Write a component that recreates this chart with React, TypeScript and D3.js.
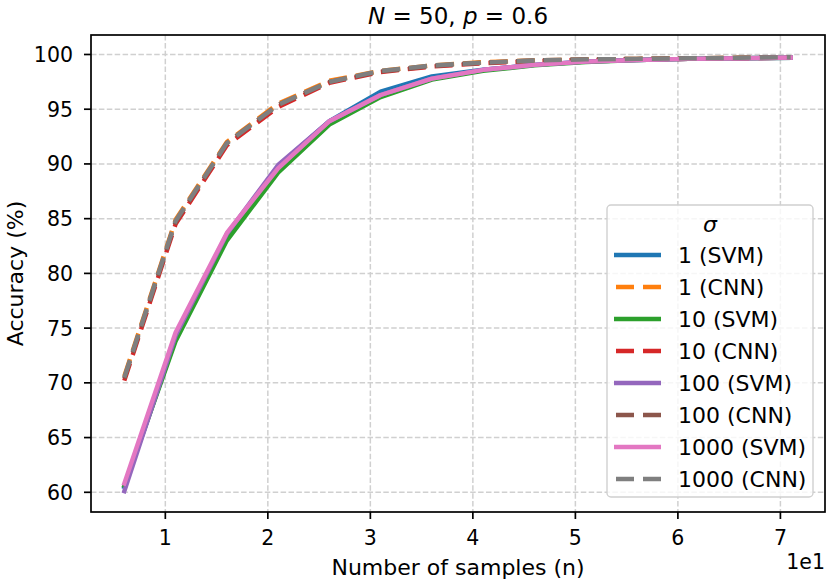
import React, { useEffect, useRef } from 'react';
import * as d3 from 'd3';

// number of samples (n); the axis shows them in units of 1e1
const samples = [6, 11, 16, 21, 26, 31, 36, 41, 46, 51, 56, 61, 66, 71];

const svm1 = [60.5, 74.0, 83.4, 89.8, 93.9, 96.6, 98.0, 98.6, 99.05, 99.35, 99.5, 99.6, 99.65, 99.7];
const cnn1 = [70.6, 84.9, 92.0, 95.5, 97.6, 98.5, 99.0, 99.3, 99.45, 99.55, 99.6, 99.65, 99.7, 99.75];
const svm10 = [60.6, 73.8, 83.0, 89.2, 93.6, 96.1, 97.7, 98.5, 99.0, 99.3, 99.5, 99.6, 99.65, 99.7];
const cnn10 = [70.2, 84.5, 91.7, 95.2, 97.4, 98.4, 98.9, 99.2, 99.4, 99.5, 99.55, 99.6, 99.65, 99.7];
const svm100 = [60.1, 74.3, 83.6, 89.9, 93.9, 96.3, 97.8, 98.6, 99.05, 99.35, 99.5, 99.6, 99.65, 99.7];
const cnn100 = [70.4, 84.7, 91.9, 95.4, 97.5, 98.45, 98.95, 99.25, 99.45, 99.55, 99.6, 99.65, 99.7, 99.75];
const svm1000 = [60.8, 74.6, 83.7, 89.6, 93.9, 96.3, 97.8, 98.6, 99.05, 99.35, 99.5, 99.6, 99.65, 99.72];
const cnn1000 = [70.5, 84.8, 91.9, 95.4, 97.5, 98.5, 99.0, 99.25, 99.45, 99.55, 99.6, 99.65, 99.7, 99.75];

const seriesLabels = ['1 (SVM)', '1 (CNN)', '10 (SVM)', '10 (CNN)', '100 (SVM)', '100 (CNN)', '1000 (SVM)', '1000 (CNN)'];
const seriesValues = [svm1, cnn1, svm10, cnn10, svm100, cnn100, svm1000, cnn1000];
const colors = ['#1f77b4', '#ff7f0e', '#2ca02c', '#d62728', '#9467bd', '#8c564b', '#e377c2', '#7f7f7f'];

const xTicks = [10, 20, 30, 40, 50, 60, 70];
const yTicks = [60, 65, 70, 75, 80, 85, 90, 95, 100];

const App: React.FC = () => {
    const chartRef = useRef<SVGSVGElement | null>(null);

    useEffect(() => {
        if (!chartRef.current) return;
        const svg = d3.select(chartRef.current);
        svg.selectAll('*').remove();

        const left = 91, right = 825, top = 35, bottom = 512;
        const font = 'DejaVu Sans, sans-serif';
        const tickFs = 20.5;
        const fs = 22;

        const x = d3.scaleLinear().domain([2.75, 74.35]).range([left, right]);
        const y = d3.scaleLinear().domain([58.2, 101.78]).range([bottom, top]);

        svg.append('rect').attr('width', 831).attr('height', 580).attr('fill', 'white');

        // grid
        const grid = svg.append('g').attr('stroke', '#d0d0d0').attr('stroke-width', 1.5).attr('stroke-dasharray', '5.5,2.4');
        xTicks.forEach((t) => {
            grid.append('line').attr('x1', x(t)).attr('x2', x(t)).attr('y1', top).attr('y2', bottom);
        });
        yTicks.forEach((t) => {
            grid.append('line').attr('x1', left).attr('x2', right).attr('y1', y(t)).attr('y2', y(t));
        });

        // lines
        const line = d3.line<number>()
            .x((_, i) => x(samples[i]))
            .y((d) => y(d));
        const plot = svg.append('g');
        seriesValues.forEach((vals, i) => {
            const dashed = i % 2 === 1;
            plot.append('path')
                .datum(vals)
                .attr('d', line)
                .attr('fill', 'none')
                .attr('stroke', colors[i])
                .attr('stroke-width', 4.4)
                .attr('stroke-linejoin', 'round')
                .attr('stroke-linecap', dashed ? 'butt' : 'square')
                .attr('stroke-dasharray', dashed ? '18,9' : null);
        });

        // spines
        svg.append('rect')
            .attr('x', left).attr('y', top)
            .attr('width', right - left).attr('height', bottom - top)
            .attr('fill', 'none').attr('stroke', 'black').attr('stroke-width', 1.7);

        // ticks
        const ax = svg.append('g').attr('font-family', font).attr('font-size', tickFs).attr('fill', 'black');
        xTicks.forEach((t) => {
            ax.append('line').attr('x1', x(t)).attr('x2', x(t)).attr('y1', bottom).attr('y2', bottom + 7)
                .attr('stroke', 'black').attr('stroke-width', 1.7);
            ax.append('text').attr('x', x(t)).attr('y', 545).attr('text-anchor', 'middle').text(d3.format('d')(t / 10));
        });
        yTicks.forEach((t) => {
            ax.append('line').attr('x1', left - 7).attr('x2', left).attr('y1', y(t)).attr('y2', y(t))
                .attr('stroke', 'black').attr('stroke-width', 1.7);
            ax.append('text').attr('x', 73).attr('y', y(t) + 7.5).attr('text-anchor', 'end').text(t);
        });

        ax.append('text').attr('x', (left + right) / 2).attr('y', 575).attr('font-size', fs)
            .attr('text-anchor', 'middle').text('Number of samples (n)');
        ax.append('text').attr('x', right).attr('y', 569).attr('text-anchor', 'end').text('1e1');
        ax.append('text')
            .attr('transform', `translate(23, ${(top + bottom) / 2}) rotate(-90)`)
            .attr('text-anchor', 'middle').attr('font-size', fs)
            .text('Accuracy (%)');

        // title
        const title = svg.append('text')
            .attr('x', (left + right) / 2).attr('y', 24)
            .attr('text-anchor', 'middle')
            .attr('font-family', font).attr('font-size', 23);
        title.append('tspan').attr('font-style', 'italic').text('N');
        title.append('tspan').text(' = 50, ');
        title.append('tspan').attr('font-style', 'italic').text('p');
        title.append('tspan').text(' = 0.6');

        // legend
        const lg = svg.append('g').attr('font-family', font).attr('font-size', fs);
        lg.append('rect')
            .attr('x', 607).attr('y', 205).attr('width', 206).attr('height', 292)
            .attr('rx', 4).attr('fill', 'white').attr('fill-opacity', 0.8)
            .attr('stroke', '#d0d0d0').attr('stroke-width', 1.4);
        lg.append('text').attr('x', 710).attr('y', 232).attr('text-anchor', 'middle')
            .attr('font-style', 'italic').text('σ');
        seriesLabels.forEach((label, i) => {
            const cy = 255 + i * 32;
            const dashed = i % 2 === 1;
            lg.append('line')
                .attr('x1', 614).attr('x2', 661).attr('y1', cy).attr('y2', cy)
                .attr('stroke', colors[i]).attr('stroke-width', 4.4)
                .attr('stroke-dasharray', dashed ? '18,9' : null)
                .attr('stroke-dashoffset', dashed ? -2 : 0);
            lg.append('text').attr('x', 678).attr('y', cy + 8).text(label);
        });
    }, []);

    return (
        <svg ref={chartRef} width={831} height={580} style={{ position: 'absolute', left: 0, top: 0 }} />
    );
};

export default App;
